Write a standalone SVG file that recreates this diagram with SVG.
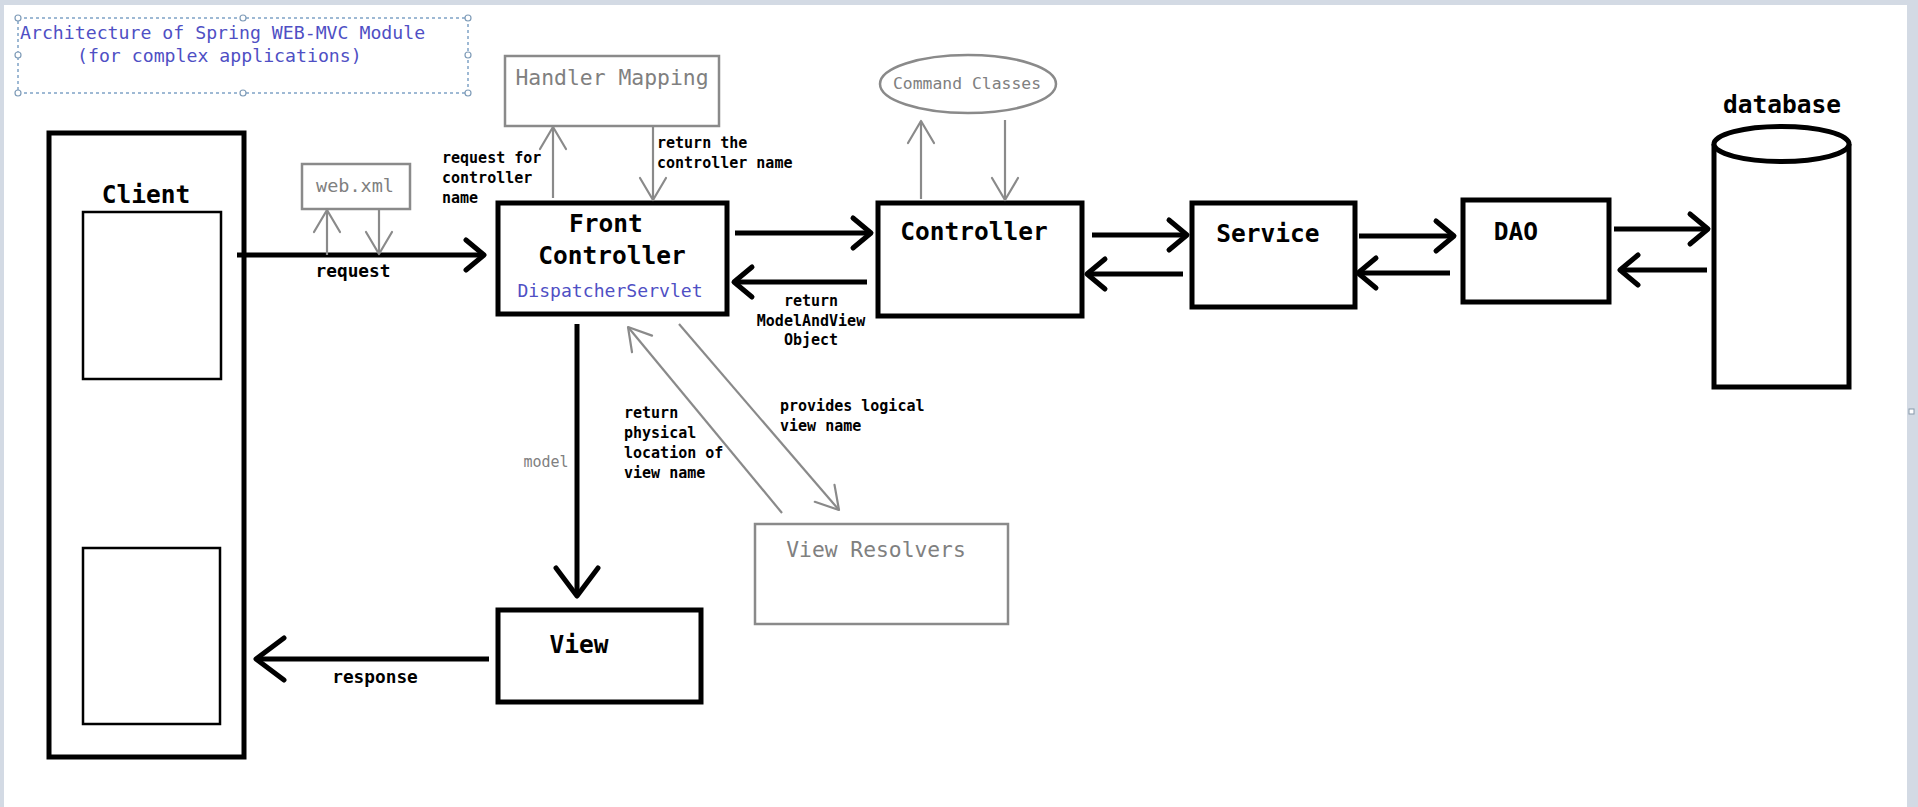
<svg xmlns="http://www.w3.org/2000/svg" width="1918" height="807" viewBox="0 0 1918 807">
<style>
  .bg{fill:#ffffff}
  .frame{fill:#d3dae4}
  .box{fill:#ffffff;stroke:#000;stroke-width:5}
  .inner{fill:#ffffff;stroke:#000;stroke-width:2.5}
  .gbox{fill:#ffffff;stroke:#8a8a8a;stroke-width:2.5}
  .t{font-family:"DejaVu Sans Mono","Liberation Mono",monospace;fill:#000}
  .b{font-weight:bold}
  .g{fill:#808080}
  .blue{fill:#4f4fc4}
  .big{font-size:24.5px;font-weight:bold}
  .lbl{font-size:15px;font-weight:bold}
  .cb{stroke:#000;stroke-width:5;fill:none}
  .cg{stroke:#8a8a8a;stroke-width:2.2;fill:none}
  .handle{fill:#ffffff;stroke:#7f9cb8;stroke-width:1.2}
</style>
<defs>
  <marker id="ah" markerUnits="userSpaceOnUse" viewBox="-24 -20 28 40" refX="0" refY="0" markerWidth="28" markerHeight="40" orient="auto">
    <path d="M-18,-15 L0,0 L-18,15" fill="none" stroke="#000" stroke-width="5" stroke-linecap="round" stroke-linejoin="round"/>
  </marker>
  <marker id="ahL" markerUnits="userSpaceOnUse" viewBox="-34 -26 38 52" refX="0" refY="0" markerWidth="38" markerHeight="52" orient="auto">
    <path d="M-28,-21 L0,0 L-28,21" fill="none" stroke="#000" stroke-width="5" stroke-linecap="round" stroke-linejoin="round"/>
  </marker>
  <marker id="ag" markerUnits="userSpaceOnUse" viewBox="-26 -16 30 32" refX="0" refY="0" markerWidth="30" markerHeight="32" orient="auto">
    <path d="M-22,-13 L0,0 L-22,13" fill="none" stroke="#8a8a8a" stroke-width="2.2" stroke-linecap="round" stroke-linejoin="round"/>
  </marker>
</defs>

<rect class="bg" x="0" y="0" width="1918" height="807"/>
<rect class="frame" x="0" y="0" width="1918" height="5"/>
<rect class="frame" x="0" y="0" width="4" height="807"/>
<rect class="frame" x="1907" y="0" width="11" height="807"/>
<rect x="1909" y="409" width="5" height="5" fill="#ffffff" stroke="#8899aa" stroke-width="1"/>

<g id="title">
  <rect x="18" y="18" width="450" height="75" fill="none" stroke="#7fa3c6" stroke-width="1.5" stroke-dasharray="3,3"/>
  <circle class="handle" cx="18" cy="18" r="3"/>
  <circle class="handle" cx="243" cy="18" r="3"/>
  <circle class="handle" cx="468" cy="18" r="3"/>
  <circle class="handle" cx="18" cy="55" r="3"/>
  <circle class="handle" cx="468" cy="55" r="3"/>
  <circle class="handle" cx="18" cy="93" r="3"/>
  <circle class="handle" cx="243" cy="93" r="3"/>
  <circle class="handle" cx="468" cy="93" r="3"/>
  <text class="t blue" x="20" y="39" font-size="18.2">Architecture of Spring WEB-MVC Module</text>
  <text class="t blue" x="77" y="62" font-size="18.2">(for complex applications)</text>
</g>

<g id="client">
  <rect class="box" x="49" y="133" width="195" height="624"/>
  <text class="t big" x="146" y="203" text-anchor="middle">Client</text>
  <rect class="inner" x="83" y="212" width="138" height="167"/>
  <rect class="inner" x="83" y="548" width="137" height="176"/>
</g>

<g id="webxml">
  <rect class="gbox" x="302" y="164" width="108" height="45"/>
  <text class="t g" x="355" y="192" font-size="18.5" text-anchor="middle">web.xml</text>
</g>

<g id="handler-mapping">
  <rect class="gbox" x="505" y="56" width="214" height="70"/>
  <text class="t g" x="612" y="85" font-size="21.4" text-anchor="middle">Handler Mapping</text>
</g>

<g id="front-controller">
  <rect class="box" x="498" y="203" width="229" height="111"/>
  <text class="t big" x="606" y="232" text-anchor="middle">Front</text>
  <text class="t big" x="612" y="264" text-anchor="middle">Controller</text>
  <text class="t blue" x="610" y="297" font-size="18.1" text-anchor="middle">DispatcherServlet</text>
</g>

<g id="command-classes">
  <ellipse cx="968" cy="84" rx="88" ry="29" fill="#ffffff" stroke="#8a8a8a" stroke-width="2.5"/>
  <text class="t g" x="967" y="89" font-size="16.4" text-anchor="middle">Command Classes</text>
</g>

<g id="controller">
  <rect class="box" x="878" y="203" width="204" height="113"/>
  <text class="t big" x="974" y="240" text-anchor="middle">Controller</text>
</g>

<g id="service">
  <rect class="box" x="1192" y="203" width="163" height="104"/>
  <text class="t big" x="1268" y="242" text-anchor="middle">Service</text>
</g>

<g id="dao">
  <rect class="box" x="1463" y="200" width="146" height="102"/>
  <text class="t big" x="1516" y="240" text-anchor="middle">DAO</text>
</g>

<g id="database">
  <path d="M1714,144 L1714,387 L1849,387 L1849,144" fill="#ffffff" stroke="#000" stroke-width="5"/>
  <ellipse cx="1781.5" cy="144" rx="67.5" ry="17.5" fill="#ffffff" stroke="#000" stroke-width="5"/>
  <text class="t big" x="1782" y="113" text-anchor="middle">database</text>
</g>

<g id="view-resolvers">
  <rect class="gbox" x="755" y="524" width="253" height="100"/>
  <text class="t g" x="876" y="557" font-size="21.3" text-anchor="middle">View Resolvers</text>
</g>

<g id="view">
  <rect class="box" x="498" y="610" width="203" height="92"/>
  <text class="t big" x="579" y="653" text-anchor="middle">View</text>
</g>

<g id="connectors">
  <line class="cb" x1="237" y1="255" x2="484" y2="255" marker-end="url(#ah)"/>
  <line class="cg" x1="327" y1="255" x2="327" y2="210" marker-end="url(#ag)"/>
  <line class="cg" x1="379" y1="209" x2="379" y2="254" marker-end="url(#ag)"/>
  <line class="cg" x1="553" y1="198" x2="553" y2="127" marker-end="url(#ag)"/>
  <line class="cg" x1="653" y1="126" x2="653" y2="200" marker-end="url(#ag)"/>
  <line class="cg" x1="921" y1="199" x2="921" y2="121" marker-end="url(#ag)"/>
  <line class="cg" x1="1005" y1="120" x2="1005" y2="200" marker-end="url(#ag)"/>
  <line class="cb" x1="735" y1="233" x2="871" y2="233" marker-end="url(#ah)"/>
  <line class="cb" x1="867" y1="282" x2="734" y2="282" marker-end="url(#ah)"/>
  <line class="cb" x1="1092" y1="235" x2="1187" y2="235" marker-end="url(#ah)"/>
  <line class="cb" x1="1183" y1="274" x2="1087" y2="274" marker-end="url(#ah)"/>
  <line class="cb" x1="1359" y1="236" x2="1454" y2="236" marker-end="url(#ah)"/>
  <line class="cb" x1="1450" y1="273" x2="1358" y2="273" marker-end="url(#ah)"/>
  <line class="cb" x1="1614" y1="229" x2="1708" y2="229" marker-end="url(#ah)"/>
  <line class="cb" x1="1707" y1="270" x2="1620" y2="270" marker-end="url(#ah)"/>
  <line class="cb" x1="577" y1="324" x2="577" y2="596" marker-end="url(#ahL)"/>
  <line class="cb" x1="489" y1="659" x2="256" y2="659" marker-end="url(#ahL)"/>
  <line class="cg" x1="782" y1="513" x2="628" y2="327" marker-end="url(#ag)"/>
  <line class="cg" x1="679" y1="324" x2="839" y2="510" marker-end="url(#ag)"/>
</g>

<g id="labels">
  <text class="t b" x="353" y="277" font-size="17.8" text-anchor="middle">request</text>
  <text class="t lbl" x="442" y="163">request for</text>
  <text class="t lbl" x="442" y="183">controller</text>
  <text class="t lbl" x="442" y="203">name</text>
  <text class="t lbl" x="657" y="148">return the</text>
  <text class="t lbl" x="657" y="168">controller name</text>
  <text class="t lbl" x="811" y="306" text-anchor="middle">return</text>
  <text class="t lbl" x="811" y="326" text-anchor="middle">ModelAndView</text>
  <text class="t lbl" x="811" y="345" text-anchor="middle">Object</text>
  <text class="t g" x="546" y="467" font-size="15" text-anchor="middle">model</text>
  <text class="t lbl" x="624" y="418">return</text>
  <text class="t lbl" x="624" y="438">physical</text>
  <text class="t lbl" x="624" y="458">location of</text>
  <text class="t lbl" x="624" y="478">view name</text>
  <text class="t lbl" x="780" y="411">provides logical</text>
  <text class="t lbl" x="780" y="431">view name</text>
  <text class="t b" x="375" y="683" font-size="17.8" text-anchor="middle">response</text>
</g>
</svg>
